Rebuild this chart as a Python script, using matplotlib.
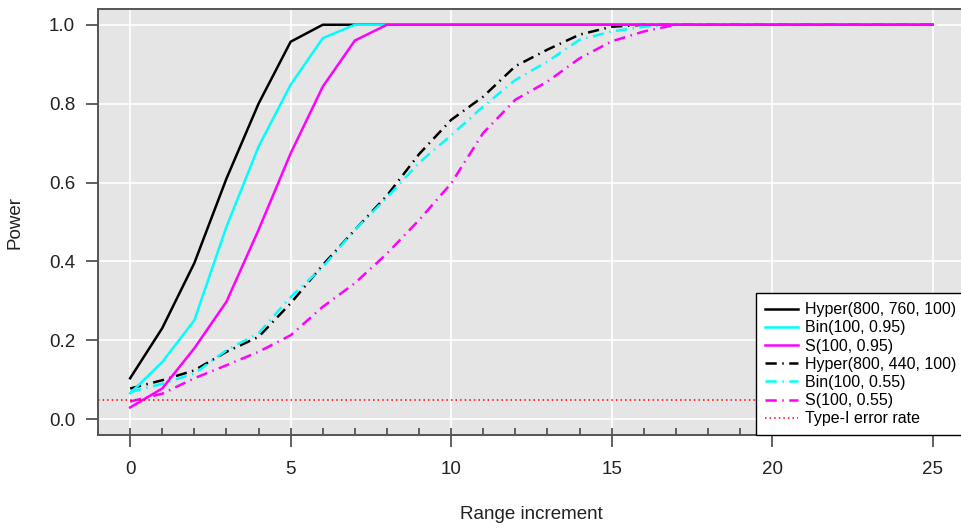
import numpy as np
from matplotlib import pyplot as plt
from matplotlib.ticker import MultipleLocator

plt.rcParams['font.family'] = ['Liberation Sans', 'DejaVu Sans']

# range increments
increment = np.arange(0, 26)

# power curves (values after the last point stay at 1.0)
hyper_760 = [0.104, 0.231, 0.396, 0.61, 0.80, 0.957, 1.0]
bin_095 = [0.066, 0.145, 0.251, 0.488, 0.691, 0.848, 0.966, 1.0]
s_095 = [0.03, 0.078, 0.18, 0.298, 0.48, 0.674, 0.843, 0.96, 1.0]
hyper_440 = [0.078, 0.099, 0.124, 0.171, 0.209, 0.294, 0.391, 0.48, 0.567,
             0.672, 0.759, 0.818, 0.895, 0.937, 0.975, 0.995, 1.0]
bin_055 = [0.069, 0.09, 0.116, 0.175, 0.218, 0.31, 0.386, 0.48, 0.562,
           0.65, 0.72, 0.793, 0.86, 0.907, 0.962, 0.983, 0.995, 1.0]
s_055 = [0.045, 0.065, 0.104, 0.137, 0.171, 0.213, 0.285, 0.345, 0.42,
         0.505, 0.598, 0.726, 0.81, 0.856, 0.915, 0.958, 0.983, 1.0]
type1_rate = 0.05


def pad(vals):
    return np.array(vals + [1.0] * (len(increment) - len(vals)))


fig = plt.figure(figsize=(9.61, 5.28), dpi=100)
ax = fig.add_axes([0.102, 0.176, 0.902, 0.807])
ax.set_facecolor('#e5e5e5')

ax.set_xlim(-1, 26)
ax.set_ylim(-0.04, 1.04)
ax.set_xticks([0, 5, 10, 15, 20, 25])
ax.set_yticks([0.0, 0.2, 0.4, 0.6, 0.8, 1.0])
ax.set_yticklabels(['0.0', '0.2', '0.4', '0.6', '0.8', '1.0'])
ax.xaxis.set_minor_locator(MultipleLocator(1))
ax.xaxis.remove_overlapping_locs = False
ax.grid(True, color='white', linewidth=1.2, zorder=0)
ax.set_axisbelow(True)

dd = (0, (4.5, 2.2, 0.6, 2.2))
lw = 1.8
ax.plot(increment, pad(hyper_440), color='black', lw=lw, ls=dd,
        label='Hyper(800, 440, 100)')
ax.plot(increment, pad(bin_055), color='#00ffff', lw=lw, ls=dd,
        label='Bin(100, 0.55)')
ax.plot(increment, pad(s_055), color='#ff00ff', lw=lw, ls=dd,
        label='S(100, 0.55)')
ax.plot(increment, pad(hyper_760), color='black', lw=lw,
        label='Hyper(800, 760, 100)')
ax.plot(increment, pad(bin_095), color='#00ffff', lw=lw,
        label='Bin(100, 0.95)')
ax.plot(increment, pad(s_095), color='#ff00ff', lw=lw,
        label='S(100, 0.95)')
ax.axhline(type1_rate, color='red', lw=1.1, ls=(0, (1, 2)),
           label='Type-I error rate')

for sp in ax.spines.values():
    sp.set_color('#555555')
    sp.set_linewidth(1.4)

ax.tick_params(axis='both', which='major', direction='out', length=8.5,
               width=1.3, color='#555555', labelsize=13.5, labelcolor='#222222')
ax.tick_params(axis='x', which='major', pad=10)
ax.tick_params(axis='y', which='major', pad=8)
ax.tick_params(axis='x', which='minor', direction='in', length=5, width=1.3,
               color='#555555')

ax.set_xlabel('Range increment', fontsize=13.5, color='#222222', labelpad=20)
ax.set_ylabel('Power', fontsize=13.5, color='#222222', labelpad=18)

handles, labels = ax.get_legend_handles_labels()
order = [3, 4, 5, 0, 1, 2, 6]
leg = ax.legend([handles[i] for i in order], [labels[i] for i in order],
                loc='lower right', borderaxespad=0, fontsize=11.5,
                frameon=True, fancybox=False, framealpha=1,
                edgecolor='black', handlelength=2.1, handletextpad=0.4,
                borderpad=0.55, labelspacing=0.2)
leg.get_frame().set_linewidth(1.0)
leg.set_zorder(10)

plt.savefig('out.png', dpi=100)
